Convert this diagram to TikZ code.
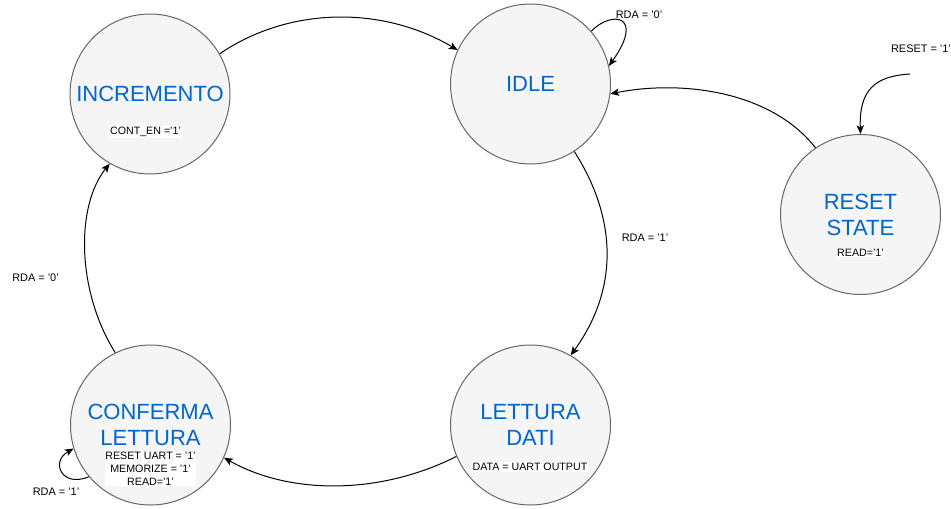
\documentclass[tikz,border=0pt]{standalone}
\usepackage{fontspec}
\setmainfont{Liberation Sans}
\usetikzlibrary{arrows.meta}
\definecolor{stateblue}{HTML}{0066CC}
\definecolor{statefill}{HTML}{F5F5F5}
\definecolor{stateline}{HTML}{666666}
\begin{document}
\begin{tikzpicture}[x=0.75pt,y=-0.75pt,
  state/.style={circle,draw=stateline,fill=statefill,line width=0.75pt,minimum size=120pt,inner sep=0pt,text=stateblue,font=\fontsize{16.5}{19.5}\selectfont,align=center},
  actlabel/.style={fill=white,inner sep=0.6pt,font=\fontsize{8}{9.6}\selectfont,align=center},
  edgelabel/.style={font=\fontsize{8.2}{10}\selectfont,inner sep=0pt},
  trans/.style={line width=0.75pt,-{Stealth[length=6.5pt,width=5.5pt,inset=1.5pt]}}
]
\useasboundingbox (0,0) rectangle (951,508);

\node[state] (inc) at (150,94) {INCREMENTO};
\node[state] (idle) at (530.5,84) {IDLE};
\node[state] (rst) at (860.5,214.5) {RESET\\STATE};
\node[state] (let) at (530.5,425) {LETTURA\\DATI};
\node[state] (conf) at (150.5,425) {CONFERMA\\LETTURA};

\node[actlabel] (incout) at (145.5,132) {CONT\_EN ='1'};
\node[actlabel] (rstout) at (860.5,253) {READ='1'};
\node[actlabel] (letout) at (530,467) {DATA = UART OUTPUT};
\node[actlabel] (confout) at (150.5,469) {RESET UART = '1'\\MEMORIZE = '1'\\READ='1'};

\coordinate (rin) at (910,74);

\draw[trans] (inc.30) .. controls (290,6) and (383,6) .. (idle.155);
\draw[trans] (idle.41) .. controls (612,10) and (645,15) .. (idle.13);
\draw[trans] (rst.124) .. controls (770,90) and (680,80) .. (idle.-7);
\draw[trans] (rin) .. controls (875,76) and (859,90) .. (rst.north);
\draw[trans] (idle.-57) .. controls (618,220) and (618,290) .. (let.60);
\draw[trans] (let.203) .. controls (380,495) and (290,495) .. (conf.-24);
\draw[trans] (conf.116) .. controls (76,290) and (76,205) .. (inc.240);
\draw[trans] (conf.220) .. controls (62,488) and (50,462) .. (conf.197);

\node[edgelabel] (l1) at (639,15) {RDA = '0'};
\node[edgelabel] (l2) at (921,49) {RESET = '1'};
\node[edgelabel] (l3) at (645,238) {RDA = '1'};
\node[edgelabel] (l4) at (35.5,278) {RDA = '0'};
\node[edgelabel] (l5) at (56,492) {RDA = '1'};
\end{tikzpicture}
\end{document}
